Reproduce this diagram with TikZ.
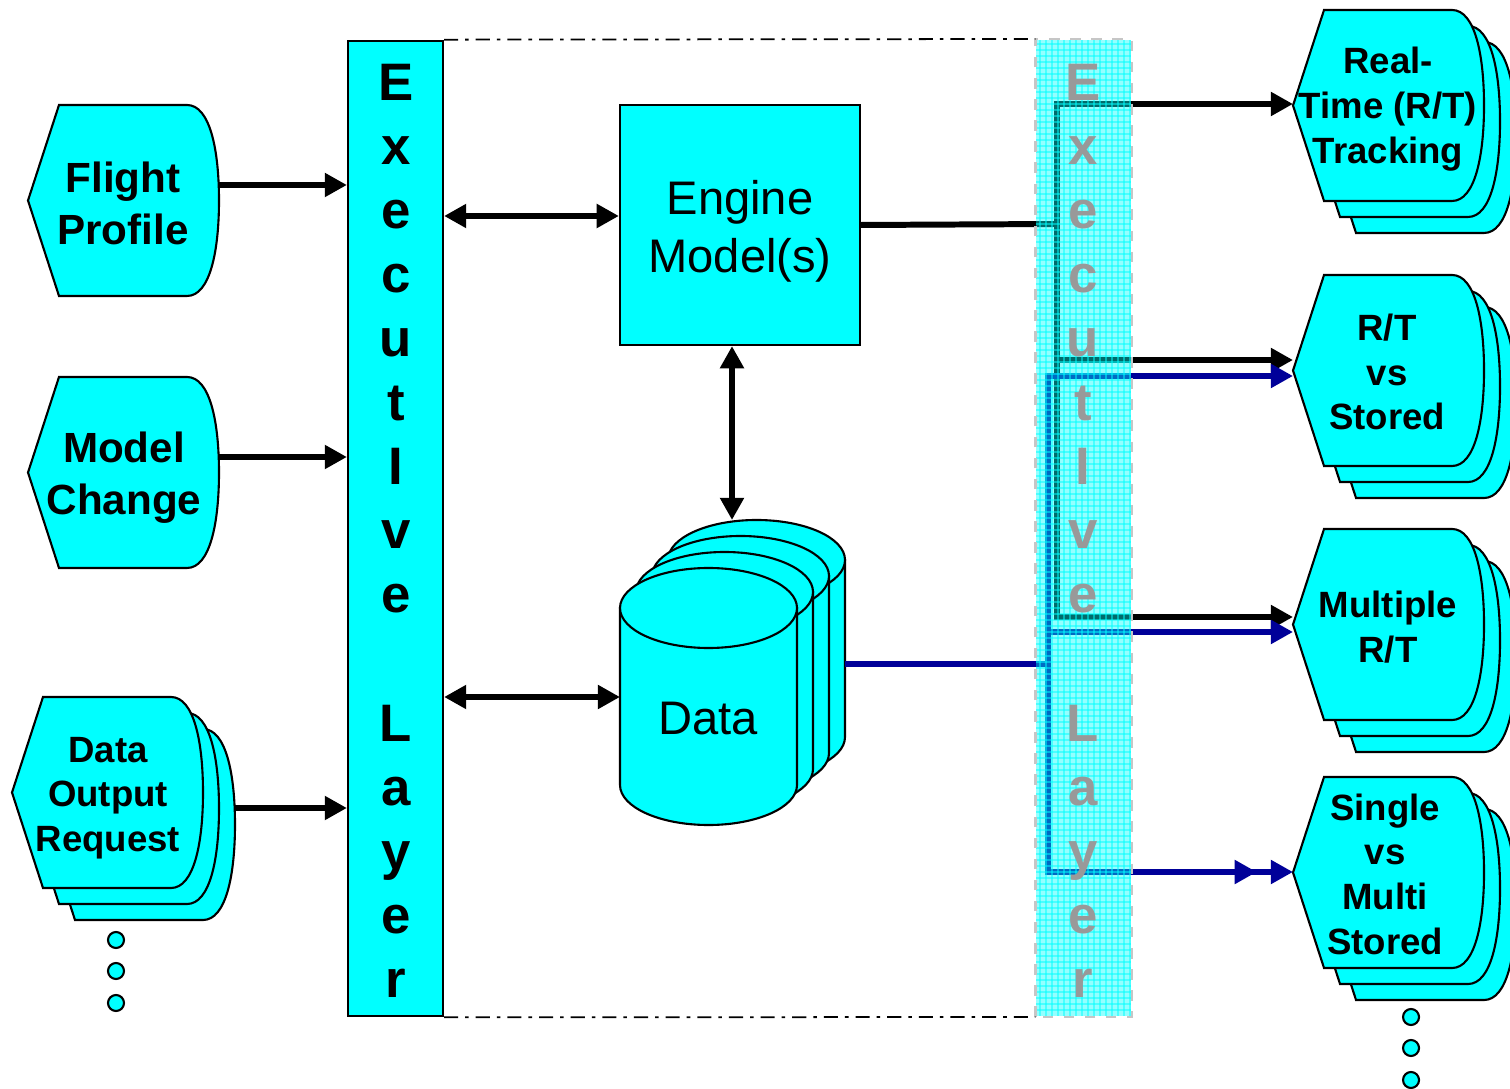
\documentclass[tikz,border=0pt]{standalone}
\usepackage{fontspec}
\setmainfont{Liberation Sans}
\usetikzlibrary{arrows.meta}

\definecolor{aqua}{RGB}{0,255,255}
\definecolor{navy}{RGB}{0,0,153}

\tikzset{
  kflow/.style={line width=1.7pt, -{Triangle[length=6.3pt,width=6.5pt]}},
  kline/.style={line width=1.7pt},
  both/.style={line width=1.7pt, {Triangle[length=6.3pt,width=6.5pt]}-{Triangle[length=6.3pt,width=6.5pt]}},
  bflow/.style={navy, line width=1.7pt, -{Triangle[length=6.3pt,width=6.5pt]}},
  bline/.style={navy, line width=1.7pt},
  btext/.style={font=\fontsize{12}{14.8}\selectfont\bfseries, align=center},
  stext/.style={font=\fontsize{10.4}{12.7}\selectfont\bfseries, align=center},
  rtext/.style={font=\fontsize{13.4}{16.5}\selectfont, align=center},
  letter/.style={font=\fontsize{15}{18}\selectfont\bfseries, anchor=base},
  dashdot/.style={line width=0.5pt, dash pattern=on 4pt off 2pt on 1pt off 2pt}
}

% hexagon-like document shape, #1 = left x, #2 = top y
\newcommand\docshape[2]{%
  \filldraw[fill=aqua, line width=0.6pt] (#1,#2+95.5) -- (#1+31,#2) -- (#1+159,#2)
    .. controls (#1+182,#2) and (#1+191,#2+45) .. (#1+191,#2+95.5)
    .. controls (#1+191,#2+146) and (#1+182,#2+191) .. (#1+159,#2+191)
    -- (#1+31,#2+191) -- cycle;}
\newcommand\docstack[2]{\docshape{#1+32}{#2+32}\docshape{#1+16}{#2+16}\docshape{#1}{#2}}

% one data drum, #1 = left x, #2 = centre y of the top ellipse
\newcommand\drum[2]{%
  \filldraw[fill=aqua, line width=0.6pt] (#1,#2) -- (#1,#2+177)
    arc[start angle=180, end angle=0, x radius=88.5, y radius=40] -- (#1+177,#2) -- cycle;
  \filldraw[fill=aqua, line width=0.6pt] (#1+88.5,#2) ellipse[x radius=88.5, y radius=40];}

\begin{document}
\begin{tikzpicture}[x=0.01cm, y=-0.01cm]
\useasboundingbox (0,0) rectangle (1510,1089);

% inputs
\docshape{28}{105}
\node[btext] (flight) at (123,203) {Flight\\Profile};
\docshape{28}{377}
\node[btext] (model) at (124,478) {Model\\Change};
\docstack{12}{697}
\node[stext] (request) at (108,798) {Data\\Output\\Request};
\foreach \y [count=\i] in {940,971,1003}
  \draw[fill=aqua, line width=0.6pt] (116,\y) circle (8);

% executive layer (left)
\node[draw, fill=aqua, line width=0.6pt, inner sep=0pt, minimum width=0.95cm, minimum height=9.75cm] (lbar) at (395.5,528.5) {};
\foreach \ch [count=\i from 0] in {E,x,e,c,u,t,I,v,e,{},L,a,y,e,r}
  \node[letter] (ll\i) at (396,101+64*\i) {\ch};

\coordinate (fp-out) at (219,185);
\coordinate (mc-out) at (219,457);
\coordinate (dr-out) at (235,808);
\draw[kflow] (fp-out) -- (fp-out -| lbar.west);
\draw[kflow] (mc-out) -- (mc-out -| lbar.west);
\draw[kflow] (dr-out) -- (dr-out -| lbar.west);

% engine and data
\node[draw, fill=aqua, line width=0.6pt, minimum width=2.4cm, minimum height=2.4cm, rtext] (engine) at (740,225) {};
\node[rtext] (engine-txt) at (740,231) {Engine\\Model(s)};
\drum{668}{560}
\drum{652}{576}
\drum{636}{592}
\drum{620}{608}
\node[rtext] (data) at (708,719) {Data};

\coordinate (eng-in) at ([yshift=0.09cm]engine.west);
\coordinate (db-top) at (732,520);
\coordinate (db-left) at (620,697);
\coordinate (db-right) at (845,664);
\draw[both] (eng-in -| lbar.east) -- (eng-in);
\draw[both] (engine.south -| db-top) -- (db-top);
\draw[both] (db-left -| lbar.east) -- (db-left);

% outputs
\docstack{1293}{10}
\node[stext] (track) at (1388,109) {Real-\\Time (R/T)\\Tracking};
\docstack{1293}{275}
\node[stext] (compare) at (1387,372) {R/T\\vs\\Stored};
\docstack{1293}{529}
\node[stext] (multi) at (1388,627) {Multiple\\R/T};
\docstack{1293}{777}
\node[stext] (single) at (1385,874) {Single\\vs\\Multi\\Stored};
\foreach \y [count=\i] in {1017,1048,1080}
  \draw[fill=aqua, line width=0.6pt] (1411,\y) circle (8);

\coordinate (trk-k) at (1293,104);
\coordinate (cmp-k) at (1293,360);
\coordinate (cmp-b) at (1293,376);
\coordinate (mul-k) at (1293,617);
\coordinate (mul-b) at (1293,632);
\coordinate (sgl-b) at (1293,872);
\coordinate (bus-k) at (1057,224);
\coordinate (bus-b) at (1048,664);

% engine bus
\draw[kline] (engine.east) -- (bus-k);
\draw[kflow] (bus-k |- cmp-k) -- (bus-k |- trk-k) -- (trk-k);
\draw[kflow] (bus-k |- cmp-k) -- (cmp-k);
\draw[kflow] (bus-k |- cmp-k) -- (bus-k |- mul-k) -- (mul-k);

% data bus
\draw[bline] (db-right) -- (bus-b);
\draw[bflow] (bus-b) -- (bus-b |- cmp-b) -- (cmp-b);
\draw[bflow] (bus-b |- mul-b) -- (mul-b);
\draw[navy, line width=1.7pt, -{Triangle[length=6.3pt,width=6.5pt,sep=4pt]Triangle[length=6.3pt,width=6.5pt]}] (bus-b) -- (bus-b |- sgl-b) -- (sgl-b);

% executive layer (right, see-through)
\node[fill=aqua, fill opacity=0.42, inner sep=0pt, minimum width=0.95cm, minimum height=9.76cm] (rbar) at (1083.5,528) {};
\foreach \gx in {1040,1046,...,1130}
  \draw[aqua, opacity=0.5, line width=0.3pt] (\gx,40) -- (\gx,1016);
\foreach \gy in {44,50,...,1014}
  \draw[aqua, opacity=0.5, line width=0.3pt] (1036,\gy) -- (1131,\gy);
\draw[gray!45, dashed, line width=0.7pt] (rbar.south west) rectangle (rbar.north east);
\foreach \ch [count=\i from 0] in {E,x,e,c,u,t,I,v,e,{},L,a,y,e,r}
  \node[letter, gray!80] (rl\i) at (1083,101+64*\i) {\ch};

% frame between the layers
\draw[dashdot] (lbar.north east) -- (rbar.north west);
\draw[dashdot] (lbar.south east) -- (rbar.south west);
\end{tikzpicture}
\end{document}
